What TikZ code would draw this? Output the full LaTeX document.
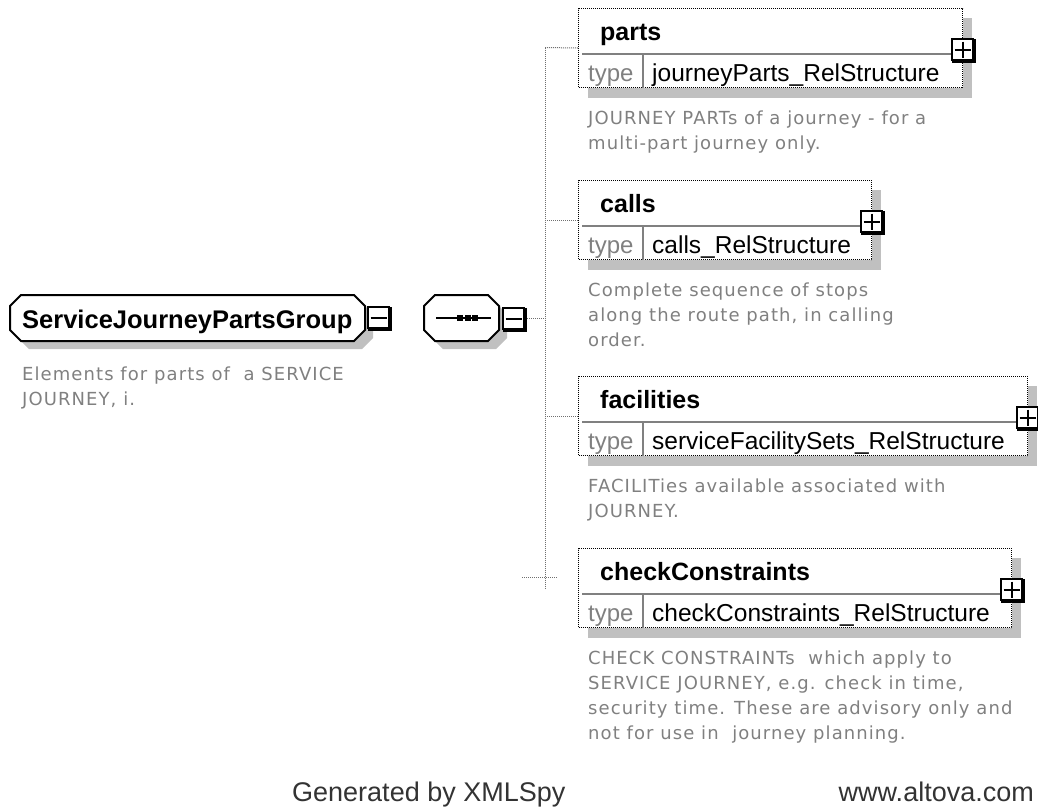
\documentclass[tikz,border=0pt]{standalone}
\usepackage{fontspec}
\setmainfont{Liberation Sans}
\newfontfamily\descfont[LetterSpace=6]{DejaVu Sans}
\usetikzlibrary{calc}
\definecolor{shadowc}{HTML}{C0C0C0}
\definecolor{descc}{HTML}{808080}
\definecolor{divc}{HTML}{808080}
\definecolor{footc}{HTML}{333333}
\definecolor{connc}{HTML}{707070}

% octagon: #1 style, #2 x1, #3 y1, #4 x2, #5 y2, #6 chamfer
\newcommand\xoctagon[6]{%
  \path[#1] (#2+#6,#3) -- (#4-#6,#3) -- (#4,#3+#6) -- (#4,#5-#6) -- (#4-#6,#5)
    -- (#2+#6,#5) -- (#2,#5-#6) -- (#2,#3+#6) -- cycle;}

% button: #1 name, #2 x, #3 y, #4 plus (1) or minus (0)
\newcommand\xbtn[4]{%
  \draw[line width=2.2pt] (#2+2.5,#3+2.5) rectangle ++(21,21);
  \node[btn] (#1) at (#2,#3) {};
  \draw[line width=2.2pt] ($(#1.west)+(3.5,0)$) -- ($(#1.east)+(-3.5,0)$);
  \ifnum#4=1
  \draw[line width=2.2pt] ($(#1.north)+(0,3.5)$) -- ($(#1.south)+(0,-3.5)$);
  \fi}

% element box: #1 name, #2 x, #3 y, #4 width, #5 title, #6 type, #7 description
\newcommand\xelement[7]{%
  \fill[shadowc] (#2+10,#3+10) rectangle (#2+#4+10,#3+90);
  \node[elframe, minimum width=#4pt] (#1) at (#2,#3) {};
  \draw[divc, line width=2pt] (#2+4,#3+45.5) -- (#2+#4,#3+45.5);
  \draw[divc, line width=2pt] (#2+65,#3+46.5) -- (#2+65,#3+80);
  \node[title] (#1-t) at (#2+22,#3+32) {#5};
  \node[typelbl] (#1-tl) at (#2+10,#3+73) {type};
  \node[typename] (#1-tn) at (#2+74,#3+73) {#6};
  \xbtn{#1-b}{#2+#4-11}{#3+30}{1}
  \node[desc] (#1-d) at (#2+10,#3+116) {\parbox[t]{460pt}{#7}};}

\begin{document}
\begin{tikzpicture}[x=1pt,y=-1pt,
  conn/.style={draw=connc, line width=1pt, dash pattern=on 1pt off 1pt},
  elframe/.style={draw=black, line width=1pt, dash pattern=on 1pt off 1pt,
    fill=white, inner sep=0, minimum height=79pt, anchor=north west},
  btn/.style={draw=black, line width=2.2pt, fill=white, inner sep=0,
    minimum size=21pt, anchor=north west},
  title/.style={anchor=base west, inner sep=0, font=\fontsize{25}{30}\selectfont\bfseries},
  typelbl/.style={anchor=base west, inner sep=0, text=descc, font=\fontsize{24}{28}\selectfont},
  typename/.style={anchor=base west, inner sep=0, font=\fontsize{24.5}{28}\selectfont},
  desc/.style={anchor=base west, inner sep=0, text=descc, font=\descfont\fontsize{18}{25}\selectfont},
  foot/.style={anchor=base west, inner sep=0, text=footc, font=\fontsize{27}{30}\selectfont},
  octo/.style={draw=black, line width=2pt, fill=white},
]
\useasboundingbox (0,0) rectangle (1038,807);

% group box
\xoctagon{fill=shadowc}{18}{303}{373}{349}{11}
\xoctagon{octo}{10}{295}{365}{341}{11}
\node[title, font=\fontsize{25.5}{30}\selectfont\bfseries] (grp) at (22,328) {ServiceJourneyPartsGroup};
\xbtn{grpb}{367}{306}{0}
\node[desc] (grpd) at (22,380) {\parbox[t]{440pt}{Elements for parts of~ a SERVICE\\JOURNEY, i.}};

% sequence compositor
\xoctagon{fill=shadowc}{432}{303}{507}{349}{11}
\xoctagon{octo}{424}{295}{499}{341}{11}
\node[inner sep=0, minimum width=75pt, minimum height=46pt, anchor=north west] (seq) at (424,295) {};
\draw[line width=2pt] (436,318) -- (491,318);
\fill (457,315) rectangle ++(6,6);
\fill (464.5,315) rectangle ++(6,6);
\fill (472,315) rectangle ++(6,6);

% connectors
\coordinate (spinetop) at (545,47.5);
\coordinate (spinebot) at (545,588);
\coordinate (xl) at (522,577);
\coordinate (xr) at (557,577);

\node[btn, draw=none, fill=none] (seqb) at (502,307) {};
\draw[conn] (seqb.east) -- (seqb.east -| spinetop);
\draw[conn] (spinetop) -- (spinebot);
\draw[conn] (xl) -- (xr);
\xbtn{seqbtn}{502}{307}{0}

% elements
\xelement{parts}{578}{8}{384}{parts}{journeyParts\_RelStructure}{JOURNEY PARTs of a journey - for a\\multi-part journey only.}
\xelement{calls}{578}{180}{293}{calls}{calls\_RelStructure}{Complete sequence of stops\\along the route path, in calling\\order.}
\xelement{facilities}{578}{376}{449}{facilities}{serviceFacilitySets\_RelStructure}{FACILITies available associated with\\JOURNEY.}
\xelement{checkConstraints}{578}{548}{433}{checkConstraints}{checkConstraints\_RelStructure}{CHECK CONSTRAINTs~ which apply to\\SERVICE JOURNEY, e.g. check in time,\\security time. These are advisory only and\\not for use in~ journey planning.}

\draw[conn] (spinetop) -- (parts.west);
\draw[conn] (calls.west -| spinetop) -- (calls.west);
\draw[conn] (facilities.west -| spinetop) -- (facilities.west);

% footer
\node[foot] (gen) at (292,801) {Generated by XMLSpy};
\node[foot, anchor=base east] (alt) at (1034,801) {www.altova.com};
\end{tikzpicture}
\end{document}
